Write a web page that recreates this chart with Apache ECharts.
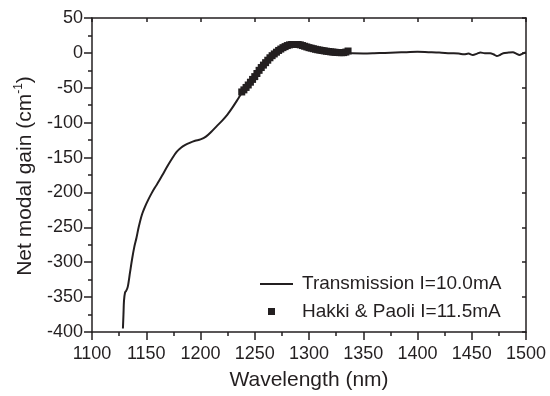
<!DOCTYPE html>
<html>
<head>
<meta charset="utf-8">
<script src="https://cdn.jsdelivr.net/npm/echarts@6/dist/echarts.min.js"></script>
<style>
  html, body { margin: 0; padding: 0; background: #fff; }
  #chart { width: 550px; height: 396px; }
</style>
</head>
<body>
<div id="chart"></div>
<script>
// 透射法测得的净模式增益（波长 nm, 增益 cm^-1）
const transWave = [1128.5, 1129, 1129.5, 1130.5, 1131.5, 1133, 1135, 1137, 1139, 1141, 1143, 1146, 1149, 1152, 1155, 1158,
  1162, 1166, 1170, 1174, 1178, 1182, 1186, 1190, 1195, 1200, 1205, 1210, 1215, 1220, 1225, 1230, 1235, 1240,
  1246, 1255, 1264, 1273, 1282, 1292, 1301, 1310, 1319, 1328, 1335, 1340, 1350, 1360, 1370, 1380, 1390, 1400,
  1410, 1420, 1430, 1438, 1443, 1447, 1451, 1455, 1458, 1462, 1467, 1470, 1473, 1476, 1479, 1484, 1488, 1491,
  1494, 1497, 1500];
const transGain = [-395, -375, -355, -343, -341, -335, -315, -295, -278, -265, -250, -232, -220, -210, -201, -193,
  -183, -172, -161, -151, -142, -136, -132, -129, -126, -124, -120, -113, -105, -97, -88, -77, -65, -53,
  -42, -23, -6.7, 5, 12, 12, 7.5, 4, 1.8, 0.4, 0, -0.6, -0.8, -0.5, 0, 0.5, 1, 1.5,
  1, 0.5, -0.5, -1, -2, -1, -3, -1, 0.5, -0.5, -0.5, -2, -4.5, -3, -0.5, 0.5, 1, -1,
  -3, -1, 0.5];

// Hakki-Paoli 法测得的数据点
const hpWave = [1238, 1240, 1242, 1244, 1246, 1248, 1250, 1252, 1254, 1256, 1258, 1260, 1262, 1264, 1266, 1268,
  1270, 1272, 1274, 1276, 1278, 1280, 1282, 1284, 1286, 1288, 1290, 1292, 1294, 1296, 1298, 1300, 1302, 1304,
  1306, 1308, 1310, 1312, 1314, 1316, 1318, 1320, 1322, 1324, 1326, 1328, 1330, 1332, 1334, 1336];
const hpGain = [-56, -53, -49.5, -46, -42, -38, -34, -29.5, -25, -21, -17.5, -14, -10.5, -7, -4, -1.5,
  1, 3.5, 5.5, 7.5, 9, 10.5, 11.5, 12, 12, 12, 12, 11.5, 10.5, 9.5, 8.5, 7.5, 6.8, 6,
  5.2, 4.5, 4, 3.4, 2.9, 2.4, 2, 1.5, 1.2, 0.9, 0.6, 0.4, 0.3, 0.4, 1.2, 2.7];

const xTicks = [1100, 1500, 50];
const yTicks = [-400, 50, 50];
const seriesNames = ['Transmission I=10.0mA', 'Hakki & Paoli I=11.5mA'];

const ink = '#231f20';
const font = 'Liberation Sans, Arial, Helvetica, sans-serif';

const zip = (a, b) => a.map((v, i) => [v, b[i]]);

const chart = echarts.init(document.getElementById('chart'));

// 主坐标轴（刻度朝外）
const mainX = {
  type: 'value', position: 'bottom',
  min: xTicks[0], max: xTicks[1], interval: xTicks[2],
  name: 'Wavelength (nm)', nameLocation: 'middle', nameGap: 38,
  nameTextStyle: { fontFamily: font, fontSize: 21, color: ink },
  axisLine: { show: true, onZero: false, lineStyle: { color: ink, width: 1.5 } },
  axisTick: { show: true, inside: false, length: 8, lineStyle: { color: ink, width: 1.5 } },
  minorTick: { show: true, splitNumber: 2, length: 4, lineStyle: { color: ink, width: 1.5 } },
  axisLabel: { margin: 13, fontFamily: font, fontSize: 18, color: ink, formatter: v => String(v) },
  splitLine: { show: false }
};
const mainY = {
  type: 'value', position: 'left',
  min: yTicks[0], max: yTicks[1], interval: yTicks[2],
  axisLine: { show: true, onZero: false, lineStyle: { color: ink, width: 1.5 } },
  axisTick: { show: true, inside: false, length: 8, lineStyle: { color: ink, width: 1.5 } },
  minorTick: { show: true, splitNumber: 2, length: 4, lineStyle: { color: ink, width: 1.5 } },
  axisLabel: { margin: 9, fontFamily: font, fontSize: 18, color: ink },
  splitLine: { show: false }
};

// 上/右边框坐标轴（刻度朝内、无标签）
const frameX = {
  type: 'value', position: 'top',
  min: xTicks[0], max: xTicks[1], interval: xTicks[2],
  axisLine: { show: true, onZero: false, lineStyle: { color: ink, width: 1.5 } },
  axisTick: { show: true, inside: true, length: 4, lineStyle: { color: ink, width: 1.5 } },
  axisLabel: { show: false },
  splitLine: { show: false }
};
const frameY = {
  type: 'value', position: 'right',
  min: yTicks[0], max: yTicks[1], interval: yTicks[2],
  axisLine: { show: true, onZero: false, lineStyle: { color: ink, width: 1.5 } },
  axisTick: { show: true, inside: true, length: 4, lineStyle: { color: ink, width: 1.5 } },
  axisLabel: { show: false },
  splitLine: { show: false }
};

// y 轴标题（带上标）与图例用 graphic 绘制
const graphics = [
  {
    type: 'text', x: 25, y: 176, rotation: Math.PI / 2,
    style: {
      text: '{a|Net modal gain (cm}{s|-1}{a|)}',
      align: 'center', verticalAlign: 'middle',
      rich: {
        a: { fontFamily: font, fontSize: 21, fill: ink, lineHeight: 24 },
        s: { fontFamily: font, fontSize: 12, fill: ink, verticalAlign: 'top', lineHeight: 24 }
      }
    }
  },
  { type: 'line', shape: { x1: 260, y1: 284, x2: 293, y2: 284 }, style: { stroke: ink, lineWidth: 2 } },
  { type: 'text', x: 302, y: 284, style: { text: seriesNames[0], font: '19px ' + font, fill: ink, verticalAlign: 'middle' } },
  { type: 'rect', shape: { x: 268, y: 308, width: 7, height: 7 }, style: { fill: ink } },
  { type: 'text', x: 302, y: 312, style: { text: seriesNames[1], font: '19px ' + font, fill: ink, verticalAlign: 'middle' } }
];

const option = {
  animation: false,
  grid: { left: 92, right: 24, top: 18, bottom: 60 },
  xAxis: [mainX, frameX],
  yAxis: [mainY, frameY],
  graphic: graphics,
  series: [
    {
      name: seriesNames[0],
      type: 'line',
      data: zip(transWave, transGain),
      symbol: 'none',
      smooth: 0.3,
      lineStyle: { color: ink, width: 2 },
      itemStyle: { color: ink }
    },
    {
      name: seriesNames[1],
      type: 'scatter',
      data: zip(hpWave, hpGain),
      symbol: 'rect',
      symbolSize: 7,
      itemStyle: { color: ink, opacity: 1 }
    }
  ]
};

chart.setOption(option);
</script>
</body>
</html>
